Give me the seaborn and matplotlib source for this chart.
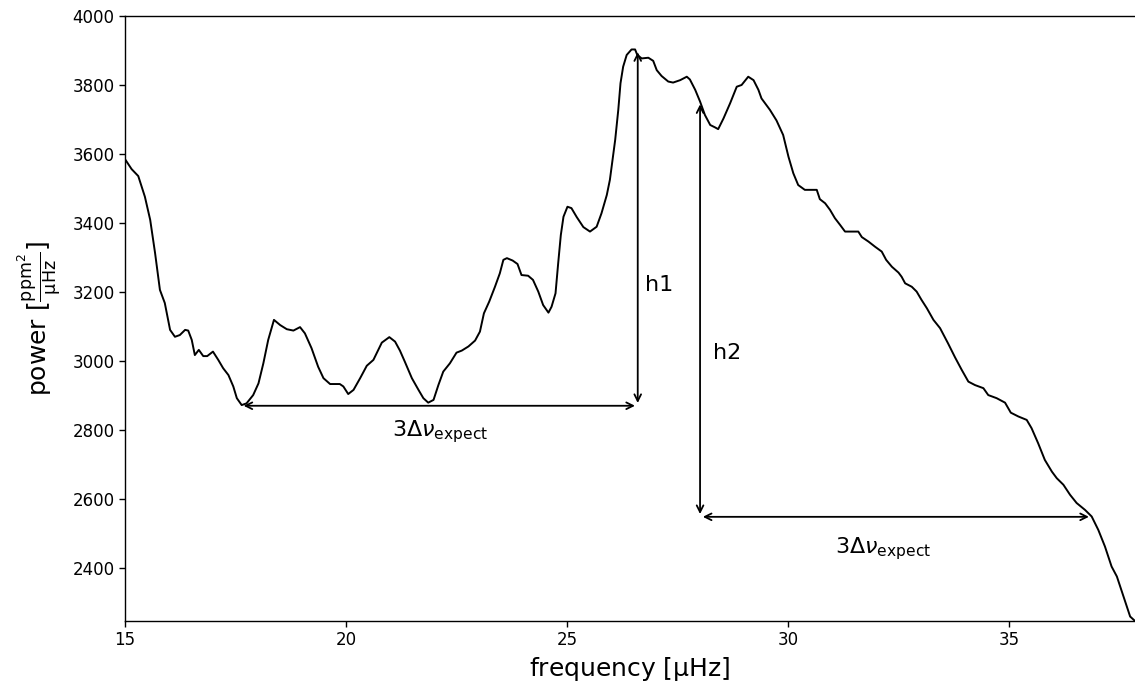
import matplotlib
matplotlib.use("Agg")
import matplotlib.pyplot as plt
import seaborn as sns
import pandas as pd

freq = [15.00, 15.15, 15.30, 15.45, 15.57, 15.68, 15.79, 15.90, 16.02, 16.13,
        16.24, 16.36, 16.43, 16.51, 16.58, 16.67, 16.77, 16.86, 16.99, 17.11,
        17.22, 17.34, 17.45, 17.53, 17.64, 17.75, 17.90, 18.02, 18.13, 18.24,
        18.37, 18.51, 18.66, 18.81, 18.96, 19.07, 19.22, 19.37, 19.49, 19.64,
        19.86, 19.94, 20.05, 20.17, 20.32, 20.47, 20.62, 20.81, 20.98, 21.11,
        21.22, 21.33, 21.49, 21.64, 21.75, 21.86, 21.98, 22.09, 22.20, 22.35,
        22.50, 22.62, 22.77, 22.92, 23.03, 23.12, 23.24, 23.37, 23.48, 23.56,
        23.64, 23.77, 23.88, 23.97, 24.12, 24.23, 24.35, 24.46, 24.58, 24.65,
        24.74, 24.80, 24.86, 24.92, 25.01, 25.10, 25.22, 25.37, 25.52, 25.67,
        25.78, 25.90, 25.97, 26.09, 26.16, 26.21, 26.27, 26.35, 26.46, 26.54,
        26.59, 26.69, 26.84, 26.95, 27.03, 27.14, 27.29, 27.40, 27.56, 27.71,
        27.78, 27.90, 28.01, 28.12, 28.24, 28.35, 28.42, 28.54, 28.69, 28.84,
        28.95, 29.10, 29.22, 29.33, 29.40, 29.59, 29.74, 29.89, 30.01, 30.12,
        30.23, 30.38, 30.54, 30.65, 30.72, 30.84, 30.95, 31.06, 31.18, 31.29,
        31.44, 31.59, 31.67, 31.82, 31.97, 32.12, 32.22, 32.35, 32.50, 32.57,
        32.65, 32.80, 32.91, 33.02, 33.14, 33.29, 33.44, 33.62, 33.78, 33.93,
        34.08, 34.23, 34.42, 34.53, 34.72, 34.91, 35.04, 35.21, 35.40, 35.51,
        35.66, 35.81, 35.97, 36.08, 36.23, 36.38, 36.53, 36.72, 36.87, 37.02,
        37.17, 37.32, 37.44, 37.59, 37.74, 37.85]

power = [3585, 3556, 3536, 3476, 3409, 3313, 3206, 3168, 3090, 3070,
         3075, 3090, 3088, 3061, 3017, 3032, 3014, 3014, 3027, 3003,
         2979, 2959, 2926, 2892, 2872, 2877, 2901, 2935, 2993, 3061,
         3119, 3104, 3092, 3088, 3098, 3080, 3037, 2983, 2950, 2933,
         2933, 2926, 2904, 2916, 2950, 2986, 3003, 3053, 3069, 3056,
         3030, 2998, 2950, 2916, 2892, 2879, 2887, 2930, 2969, 2993,
         3024, 3030, 3042, 3059, 3085, 3138, 3172, 3215, 3254, 3293,
         3298, 3291, 3281, 3249, 3247, 3235, 3201, 3162, 3140, 3157,
         3196, 3283, 3365, 3418, 3447, 3443, 3417, 3388, 3375, 3389,
         3428, 3481, 3525, 3641, 3728, 3805, 3853, 3887, 3903, 3903,
         3887, 3877, 3879, 3870, 3843, 3826, 3810, 3807, 3814, 3824,
         3816, 3786, 3752, 3713, 3684, 3677, 3672, 3703, 3747, 3795,
         3800, 3824, 3814, 3786, 3761, 3728, 3697, 3655, 3592, 3544,
         3510, 3496, 3496, 3496, 3469, 3457, 3438, 3414, 3394, 3375,
         3375, 3375, 3359, 3346, 3331, 3317, 3293, 3273, 3256, 3244,
         3225, 3215, 3201, 3177, 3153, 3119, 3095, 3051, 3010, 2974,
         2940, 2930, 2921, 2901, 2892, 2879, 2850, 2839, 2829, 2805,
         2761, 2713, 2679, 2660, 2641, 2612, 2588, 2568, 2549, 2510,
         2462, 2404, 2375, 2317, 2259, 2246]

# annotation values
h1_x = 26.6
h1_low, h1_high = 2870, 3903
span1 = (17.62, 26.6)
h2_x = 28.01
h2_low, h2_high = 2548, 3752
span2 = (28.01, 36.87)
delta_label = r"$3\Delta\nu_{\mathrm{expect}}$"

sns.set_theme(style="ticks")
plt.rcParams['font.family'] = ['DejaVu Sans']
plt.rcParams.update({
    "text.color": "black",
    "axes.labelcolor": "black",
    "xtick.color": "black",
    "ytick.color": "black",
    "axes.edgecolor": "black",
})

fig = plt.figure(figsize=(11.35, 6.9), dpi=100)
ax = fig.add_axes([125/1135, 1 - 621/690, 1 - 125/1135, (621 - 16)/690])

df = pd.DataFrame({"frequency": freq, "power": power})
sns.lineplot(data=df, x="frequency", y="power", color="black", lw=1.4, ax=ax)

ax.set_xlim(15, 37.85)
ax.set_ylim(2246, 4000)
ax.set_xticks([15, 20, 25, 30, 35])
ax.set_yticks([2400, 2600, 2800, 3000, 3200, 3400, 3600, 3800, 4000])
ax.tick_params(labelsize=12, direction="out", length=4, width=1, colors="black")
for s in ["left", "top", "bottom"]:
    ax.spines[s].set_color("black")
    ax.spines[s].set_linewidth(1.0)
ax.spines["right"].set_visible(False)

ax.set_xlabel(r"frequency [$\mathrm{\mu Hz}$]", fontsize=18, color="black")
ax.set_ylabel(r"power [$\frac{\mathrm{ppm}^2}{\mathrm{\mu Hz}}$]", fontsize=18,
              color="black", labelpad=6)

arrow = dict(arrowstyle="<->", color="black", lw=1.3)
ax.annotate("", xy=(span1[0], h1_low), xytext=(span1[1], h1_low), arrowprops=arrow)
ax.annotate("", xy=(h1_x, h1_low), xytext=(h1_x, h1_high), arrowprops=arrow)
ax.annotate("", xy=(h2_x, h2_low), xytext=(h2_x, h2_high), arrowprops=arrow)
ax.annotate("", xy=(span2[0], h2_low), xytext=(span2[1], h2_low), arrowprops=arrow)

ax.text(26.77, 3220, "h1", fontsize=16, ha="left", va="center", color="black")
ax.text(28.30, 3023, "h2", fontsize=16, ha="left", va="center", color="black")
ax.text(22.13, 2795, delta_label, fontsize=16, ha="center", va="center", color="black")
ax.text(32.15, 2455, delta_label, fontsize=16, ha="center", va="center", color="black")

fig.savefig("out.png", dpi=100)
